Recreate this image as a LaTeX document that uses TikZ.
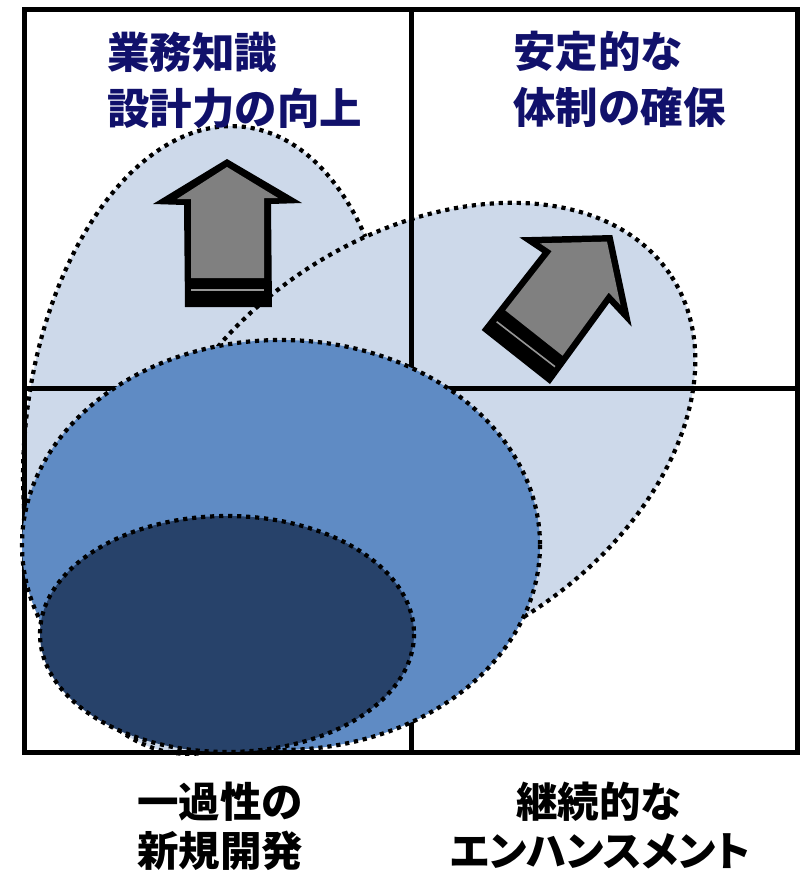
\documentclass[tikz,border=0pt]{standalone}
\usepackage{fontspec}
\newfontfamily\jp{Noto Sans CJK JP}
\newfontfamily\jpp{Noto Sans CJK JP}[RawFeature=+palt]
\definecolor{lightb}{RGB}{205,217,234}
\definecolor{midb}{RGB}{95,139,196}
\definecolor{darkb}{RGB}{39,66,106}
\definecolor{navy}{RGB}{17,17,107}
\definecolor{arrgray}{RGB}{128,128,128}
\definecolor{bandline}{RGB}{150,150,150}
\begin{document}
\begin{tikzpicture}[x=1pt,y=-1pt,
  dotb/.style={draw=black,line width=4.2pt,dash pattern=on 4.2pt off 4.8pt},
  framel/.style={draw=black,line width=5pt},
  toplbl/.style={font=\jp\bfseries\fontsize{42.5}{50}\selectfont,text=navy,inner sep=0pt,anchor=west},
  botlbl/.style={font=\jp\bfseries\fontsize{41.5}{50}\selectfont,text=black,inner sep=0pt},
  arrout/.style={fill=black},
  arrin/.style={fill=arrgray},
  arrline/.style={draw=bandline,line width=1.6pt}]
\useasboundingbox (0,0) rectangle (801,871);
% light shapes
\path[fill=lightb,dotb,rotate around={-6:(210,440)}] (210,440) ellipse [x radius=185, y radius=315];
\path[fill=lightb,dotb,rotate around={33:(420,440)}] (420,440) ellipse [x radius=300, y radius=205];
% frame
\draw[framel] (24,9) rectangle (797,752);
\draw[framel] (411,9) -- (411,752);
\draw[framel] (24,388) -- (797,388);
% arrows
\fill[arrout] (227,159) -- (302,203) -- (271,204) -- (272,307) -- (185,307) -- (184,205) -- (153,204) -- cycle;
\fill[arrin] (227,167) -- (278,198) -- (264,198) -- (264,278) -- (191,278) -- (191,199) -- (177,199) -- cycle;
\draw[arrline] (191,290) -- (264,290);
\fill[arrout] (519.3,237.3) -- (612.3,235) -- (631.7,326.7) -- (609.3,302.7) -- (550,384) -- (481.7,330) -- (542.3,252.7) -- cycle;
\fill[arrin] (539.9,243.3) -- (607,241.6) -- (620.5,305.1) -- (608.7,292.5) -- (562.6,355.7) -- (505.3,310.4) -- (551.7,251.2) -- cycle;
\draw[arrline] (496.7,321.7) -- (555,366.7);
% blue ellipses
\path[fill=midb,dotb] (281,545) ellipse [x radius=259, y radius=205];
\path[fill=darkb,dotb] (227,634) ellipse [x radius=187, y radius=118];
% labels
\node[toplbl] (tl1) at (107,52) {業務知識};
\node[toplbl] (tl2) at (107,108) {設計力の向上};
\node[toplbl] (tr1) at (513,51) {安定的な};
\node[toplbl] (tr2) at (513,107) {体制の確保};
\node[botlbl] (bl1) at (220,802) {一過性の};
\node[botlbl] (bl2) at (220,851) {新規開発};
\node[botlbl] (br1) at (599,802) {継続的な};
\node[botlbl,font=\jpp\bfseries\fontsize{41}{50}\selectfont] (br2) at (600,851) {エンハンスメント};
\end{tikzpicture}
\end{document}
